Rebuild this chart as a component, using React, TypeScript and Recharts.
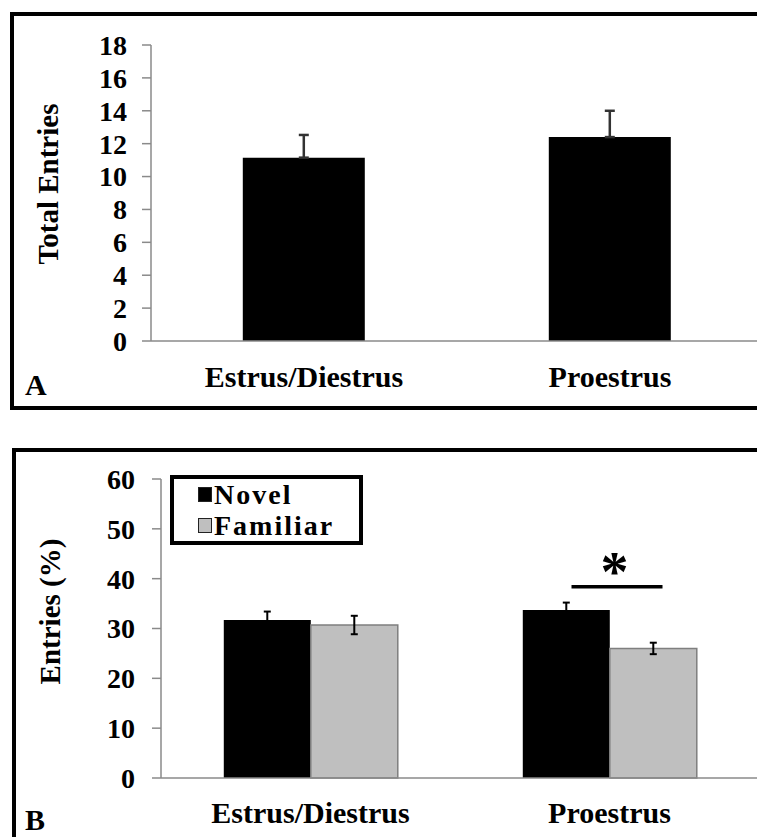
import React from 'react'
import {
  BarChart,
  Bar,
  XAxis,
  YAxis,
  ErrorBar,
  Legend,
  ReferenceLine,
} from 'recharts'

// panel A: total arm entries
const categories = ['Estrus/Diestrus', 'Proestrus']
const totalEntries = [11.15, 12.4]
const totalEntriesSem = [1.38, 1.6]
const totalTicks = [0, 2, 4, 6, 8, 10, 12, 14, 16, 18]

// panel B: % entries into novel vs familiar arm
const seriesNames = ['Novel', 'Familiar']
const novelPct = [31.7, 33.7]
const novelSem = [1.7, 1.5]
const familiarPct = [30.7, 26.0]
const familiarSem = [1.85, 1.15]
const pctTicks = [0, 10, 20, 30, 40, 50, 60]
const sigLevel = 38.4

const FONT = '"Liberation Serif", "Times New Roman", serif'
const AXIS = '#8a8a8a'

const dataA = categories.map((name, i) => ({
  name,
  total: totalEntries[i],
  // one-sided (upward) error
  err: [0, totalEntriesSem[i]],
}))

const dataB = categories.map((name, i) => ({
  name,
  novel: novelPct[i],
  novelErr: novelSem[i],
  familiar: familiarPct[i],
  familiarErr: familiarSem[i],
}))

const tickStyle = { fill: '#000', fontSize: 28, fontWeight: 700, fontFamily: FONT }
const catTickStyle = { fill: '#000', fontSize: 30, fontWeight: 700, fontFamily: FONT }

const yLabel = (text: string, dx: number, dy: number) => (props: any) => {
  const vb = props.viewBox || {}
  const cx = vb.x + dx
  const cy = vb.y + vb.height / 2 + dy
  return (
    <text
      x={cx}
      y={cy}
      transform={`rotate(-90, ${cx}, ${cy})`}
      textAnchor="middle"
      dominantBaseline="central"
      fontSize={29}
      fontWeight={700}
      fontFamily={FONT}
      fill="#000"
    >
      {text}
    </text>
  )
}

const LegendBox = (props: any) => {
  const items = [...(props.payload || [])].sort(
    (a: any, b: any) => seriesNames.indexOf(a.value) - seriesNames.indexOf(b.value)
  )
  return (
    <div
      style={{
        border: '4px solid #000',
        boxSizing: 'border-box',
        width: 193,
        height: 70,
        padding: '0 0 0 24px',
        fontFamily: FONT,
        fontWeight: 700,
        fontSize: 28,
        letterSpacing: 2,
        lineHeight: '31px',
        color: '#000',
        background: '#fff',
      }}
    >
      {items.map((it: any) => (
        <div
          key={it.value}
          style={{ display: 'flex', alignItems: 'center', height: 31 }}
        >
          <span
            style={{
              display: 'inline-block',
              width: 12,
              height: 13,
              background: it.color,
              border: '1px solid #222',
              marginRight: 2,
              flex: 'none',
            }}
          />
          <span>{it.value}</span>
        </div>
      ))}
    </div>
  )
}

const SigMark = (p: any) => {
  const x = p.x1
  const y = p.y1
  return (
    <g>
      <line x1={x - 38} y1={y} x2={x + 53} y2={y} stroke="#000" strokeWidth={3.5} />
      <text
        x={x + 5}
        y={y + 4}
        textAnchor="middle"
        fontSize={56}
        fontWeight={700}
        fontFamily={FONT}
        fill="#000"
      >
        *
      </text>
    </g>
  )
}

const frame = (top: number, left: number, height: number): React.CSSProperties => ({
  position: 'absolute',
  top,
  left,
  width: 820,
  height,
  border: '4px solid #000',
  boxSizing: 'border-box',
})

const letter = (top: number): React.CSSProperties => ({
  position: 'absolute',
  top,
  left: 25,
  fontFamily: FONT,
  fontWeight: 700,
  fontSize: 30,
  lineHeight: '30px',
  color: '#000',
})

export default function App() {
  return (
    <div
      style={{
        position: 'absolute',
        top: 0,
        left: 0,
        width: 757,
        height: 837,
        overflow: 'hidden',
        background: '#fff',
        fontFamily: FONT,
      }}
    >
      <div style={frame(12, 10, 398)} />
      <div style={frame(448, 12, 460)} />

      <div style={{ position: 'absolute', top: 0, left: 0 }}>
        <BarChart
          width={780}
          height={420}
          data={dataA}
          margin={{ top: 45, right: 17, left: 51, bottom: 29 }}
          barCategoryGap="30%"
          style={{ fontFamily: FONT }}
        >
          <XAxis
            xAxisId="edge"
            type="number"
            domain={[0, 2]}
            ticks={[0, 1, 2]}
            height={0}
            axisLine={false}
            tick={false}
            tickSize={11}
            tickLine={{ stroke: AXIS, strokeWidth: 1.5 }}
          />
          <XAxis
            xAxisId="cat"
            dataKey="name"
            height={50}
            tickLine={false}
            tickSize={0}
            tickMargin={25}
            axisLine={{ stroke: AXIS, strokeWidth: 1.5 }}
            tick={catTickStyle}
            interval={0}
          />
          <YAxis
            width={100}
            domain={[0, 18]}
            ticks={totalTicks}
            interval={0}
            tickSize={9}
            tickMargin={15}
            axisLine={{ stroke: AXIS, strokeWidth: 1.5 }}
            tickLine={{ stroke: AXIS, strokeWidth: 1.5 }}
            tick={tickStyle}
            label={{ content: yLabel('Total Entries', -3, -9) }}
          />
          <Bar xAxisId="cat" dataKey="total" fill="#000" isAnimationActive={false}>
            <ErrorBar dataKey="err" width={5} stroke="#333" strokeWidth={2.5} />
          </Bar>
        </BarChart>
      </div>

      <div style={{ position: 'absolute', top: 440, left: 0 }}>
        <BarChart
          width={780}
          height={397}
          data={dataB}
          margin={{ top: 39, right: 21, left: 61, bottom: 9 }}
          barCategoryGap="21%"
          barGap={0}
          style={{ fontFamily: FONT }}
        >
          <XAxis
            xAxisId="edge"
            type="number"
            domain={[0, 2]}
            ticks={[0, 1, 2]}
            height={0}
            axisLine={false}
            tick={false}
            tickSize={9}
            tickLine={{ stroke: AXIS, strokeWidth: 1.5 }}
          />
          <XAxis
            xAxisId="cat"
            dataKey="name"
            height={50}
            tickLine={false}
            tickSize={0}
            tickMargin={24}
            axisLine={{ stroke: AXIS, strokeWidth: 1.5 }}
            tick={catTickStyle}
            interval={0}
          />
          <YAxis
            width={100}
            domain={[0, 60]}
            ticks={pctTicks}
            interval={0}
            tickSize={9}
            tickMargin={17}
            axisLine={{ stroke: AXIS, strokeWidth: 1.5 }}
            tickLine={{ stroke: AXIS, strokeWidth: 1.5 }}
            tick={tickStyle}
            label={{ content: yLabel('Entries (%)', -11, -17) }}
          />
          <Legend
            layout="horizontal"
            verticalAlign="middle"
            align="center"
            content={<LegendBox />}
            wrapperStyle={{ left: 170, top: 35, width: 193, height: 70 }}
          />
          <Bar
            xAxisId="cat"
            dataKey="novel"
            name={seriesNames[0]}
            fill="#000"
            isAnimationActive={false}
          >
            <ErrorBar dataKey="novelErr" width={3.5} stroke="#000" strokeWidth={2} />
          </Bar>
          <Bar
            xAxisId="cat"
            dataKey="familiar"
            name={seriesNames[1]}
            fill="#bfbfbf"
            stroke="#7f7f7f"
            strokeWidth={1.5}
            isAnimationActive={false}
          >
            <ErrorBar dataKey="familiarErr" width={3.5} stroke="#000" strokeWidth={2} />
          </Bar>
          <ReferenceLine
            xAxisId="cat"
            segment={[
              { x: 'Proestrus', y: sigLevel },
              { x: 'Proestrus', y: sigLevel },
            ]}
            shape={<SigMark />}
          />
        </BarChart>
      </div>

      <div style={letter(370)}>A</div>
      <div style={letter(805)}>B</div>
    </div>
  )
}
